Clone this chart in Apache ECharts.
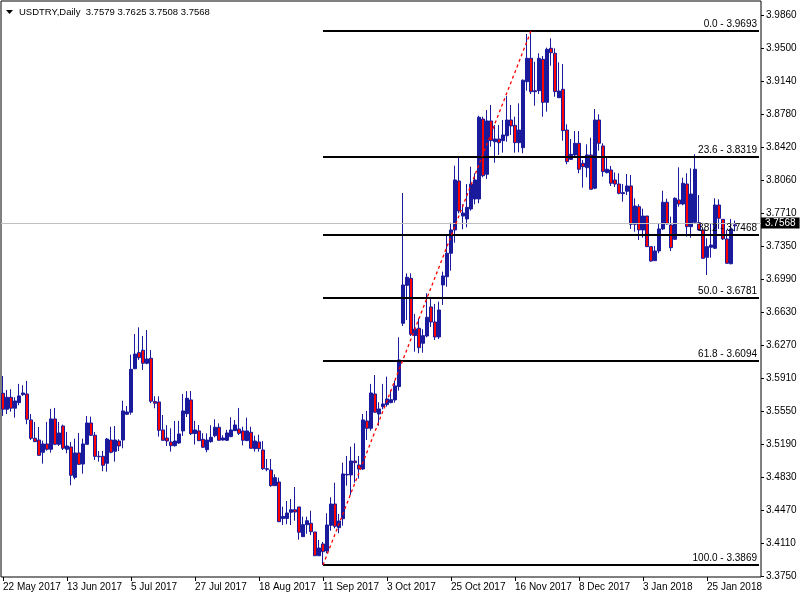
<!DOCTYPE html>
<html><head><meta charset="utf-8">
<script src="https://cdn.jsdelivr.net/npm/echarts@6/dist/echarts.min.js"></script>
<style>html,body{margin:0;padding:0;background:#fff}#c{width:800px;height:600px}</style>
</head><body><div id="c"></div>
<script>
// ---- Data (USDTRY Daily) ----
const openP = [
3.5742,3.5568,3.5698,3.5579,3.5640,3.5727,3.5734,3.5451,3.5251,3.5232,
3.5098,3.5189,3.5131,3.5462,3.5185,3.5385,3.5131,3.5156,3.4825,3.5091,
3.4970,3.5185,3.5418,3.5284,3.5054,3.5054,3.4978,3.5232,3.5109,3.5221,
3.5232,3.5513,3.5535,3.6009,3.6185,3.6211,3.6069,3.6123,3.5651,3.5647,
3.5342,3.5254,3.5211,3.5170,3.5200,3.5331,3.5519,3.5669,3.5303,3.5331,
3.5240,3.5127,3.5214,3.5279,3.5371,3.5232,3.5229,3.5269,3.5334,3.5352,
3.5331,3.5225,3.5316,3.5138,3.5211,3.5123,3.4919,3.4905,3.4734,3.4774,
3.4377,3.4377,3.4444,3.4472,3.4502,3.4178,3.4309,3.4324,3.4229,3.3970,
3.4098,3.4022,3.4302,3.4534,3.4276,3.4374,3.4858,3.4851,3.5003,3.4960,
3.4916,3.5440,3.5360,3.5734,3.5516,3.5596,3.5618,3.5640,3.5669,3.5815,
3.6505,3.6919,3.6996,3.6371,3.6451,3.6287,3.6367,3.6683,3.6519,3.6356,
3.6923,3.7013,3.7269,3.7523,3.8057,3.7675,3.7643,3.7752,3.7861,3.7861,
3.8733,3.8130,3.8712,3.8485,3.8515,3.8497,3.8551,3.8722,3.8664,3.8475,
3.8420,3.9140,3.9395,3.9042,3.9042,3.9384,3.8915,3.9504,3.9450,3.8965,
3.9057,3.8613,3.8293,3.8341,3.8468,3.8250,3.8202,3.8341,3.7978,3.8722,
3.8439,3.8148,3.8177,3.8068,3.8024,3.7919,3.7945,3.8003,3.7585,3.7777,
3.7523,3.7675,3.7341,3.7188,3.7294,3.7534,3.7825,3.7577,3.7421,3.7850,
3.7806,3.8024,3.7559,3.7607,3.7602,3.7523,3.7225,3.7334,3.7323,3.7795,
3.7639,3.7425,3.7155,3.7579];
const highP = [
3.5931,3.5778,3.5786,3.5698,3.5844,3.5829,3.5876,3.5516,3.5429,3.5374,
3.5225,3.5429,3.5571,3.5582,3.5429,3.5400,3.5320,3.5211,3.5247,3.5309,
3.5247,3.5494,3.5487,3.5320,3.5112,3.5112,3.5254,3.5377,3.5385,3.5240,
3.5661,3.5603,3.6163,3.6388,3.6461,3.6367,3.6432,3.6214,3.5709,3.5709,
3.5505,3.5393,3.5360,3.5440,3.5440,3.5734,3.5765,3.5767,3.5440,3.5396,
3.5305,3.5305,3.5393,3.5458,3.5414,3.5284,3.5342,3.5480,3.5451,3.5582,
3.5377,3.5476,3.5377,3.5279,3.5290,3.5221,3.5025,3.5025,3.4858,3.4821,
3.4505,3.4567,3.4589,3.4720,3.4502,3.4396,3.4396,3.4461,3.4229,3.4142,
3.4120,3.4433,3.4607,3.4767,3.4425,3.4985,3.5058,3.5159,3.5196,3.5058,
3.5516,3.5549,3.5844,3.5941,3.5643,3.5844,3.5923,3.5778,3.5880,3.6352,
3.7926,3.7050,3.7050,3.6607,3.6560,3.6440,3.6832,3.6792,3.6716,3.6741,
3.7068,3.7468,3.7602,3.8224,3.8322,3.7803,3.8024,3.8213,3.8141,3.8769,
3.8758,3.8831,3.8886,3.8668,3.8668,3.8722,3.8984,3.8886,3.8758,3.8904,
3.9164,3.9660,3.9693,3.9358,3.9450,3.9420,3.9511,3.9613,3.9504,3.9351,
3.9333,3.8675,3.8515,3.8602,3.8602,3.8286,3.8457,3.8529,3.8842,3.8784,
3.8468,3.8322,3.8221,3.8150,3.8141,3.8024,3.8133,3.8122,3.7868,3.7803,
3.7755,3.7675,3.7341,3.7348,3.7596,3.7951,3.7864,3.7668,3.7879,3.8206,
3.8093,3.8141,3.8195,3.8348,3.7904,3.7530,3.7432,3.7596,3.7868,3.7857,
3.7639,3.7523,3.7643,3.7625];
const lowP = [
3.5495,3.5516,3.5541,3.5476,3.5611,3.5713,3.5404,3.5232,3.5211,3.5060,
3.4974,3.5116,3.5094,3.5178,3.5167,3.5123,3.5087,3.4738,3.4804,3.4960,
3.4865,3.5185,3.5276,3.5014,3.4996,3.4891,3.4887,3.5087,3.4996,3.5112,
3.5142,3.5505,3.5509,3.6009,3.6105,3.5996,3.6058,3.5633,3.5578,3.5269,
3.5225,3.5167,3.5105,3.5160,3.5189,3.5276,3.5483,3.5287,3.5183,3.5221,
3.5145,3.5098,3.5203,3.5262,3.5229,3.5225,3.5221,3.5262,3.5331,3.5287,
3.5174,3.5221,3.5142,3.5105,3.5105,3.4905,3.4891,3.4723,3.4734,3.4341,
3.4305,3.4313,3.4305,3.4352,3.4145,3.4178,3.4210,3.4196,3.3970,3.3970,
3.3869,3.3997,3.4243,3.4269,3.4215,3.4298,3.4734,3.4633,3.4767,3.4811,
3.4905,3.5232,3.5334,3.5531,3.5388,3.5567,3.5596,3.5633,3.5640,3.5771,
3.6476,3.6541,3.6367,3.6195,3.6178,3.6184,3.6352,3.6465,3.6323,3.6334,
3.6705,3.6904,3.7079,3.7384,3.7705,3.7530,3.7552,3.7733,3.7803,3.7814,
3.8097,3.8079,3.8431,3.8257,3.8341,3.8366,3.8486,3.8559,3.8366,3.8370,
3.8359,3.9042,3.9006,3.8878,3.9006,3.8758,3.8813,3.9314,3.8976,3.8965,
3.8497,3.8239,3.8286,3.8315,3.8141,3.7985,3.8097,3.7967,3.7967,3.8388,
3.8104,3.8141,3.8003,3.7992,3.7912,3.7831,3.7904,3.7534,3.7504,3.7414,
3.7439,3.7341,3.7177,3.7188,3.7269,3.7523,3.7585,3.7294,3.7414,3.7777,
3.7792,3.7450,3.7439,3.7596,3.7515,3.7206,3.7032,3.7221,3.7315,3.7534,
3.7414,3.7159,3.7148,3.7508];
const closeP = [
3.5568,3.5698,3.5579,3.5658,3.5713,3.5745,3.5458,3.5251,3.5214,3.5065,
3.5189,3.5131,3.5462,3.5185,3.5309,3.5142,3.5167,3.4847,3.5091,3.4967,
3.5189,3.5418,3.5284,3.5054,3.5050,3.4956,3.5243,3.5098,3.5232,3.5167,
3.5549,3.5538,3.6003,3.6170,3.6130,3.6069,3.6116,3.5655,3.5633,3.5338,
3.5229,3.5221,3.5170,3.5221,3.5298,3.5549,3.5687,3.5301,3.5342,3.5225,
3.5153,3.5232,3.5262,3.5371,3.5229,3.5254,3.5309,3.5342,3.5396,3.5305,
3.5229,3.5331,3.5142,3.5221,3.5138,3.4919,3.4912,3.4734,3.4821,3.4341,
3.4399,3.4436,3.4472,3.4447,3.4226,3.4309,3.4352,3.4232,3.3970,3.4054,
3.4014,3.4305,3.4534,3.4291,3.4349,3.4862,3.4851,3.5003,3.4985,3.4916,
3.5451,3.5360,3.5745,3.5535,3.5571,3.5625,3.5680,3.5672,3.5822,3.6105,
3.6923,3.7007,3.6385,3.6443,3.6239,3.6370,3.6571,3.6519,3.6356,3.6650,
3.7021,3.7269,3.7523,3.8068,3.7730,3.7708,3.7770,3.8024,3.8068,3.8752,
3.8115,3.8712,3.8497,3.8515,3.8475,3.8559,3.8722,3.8657,3.8475,3.8613,
3.9156,3.9395,3.9031,3.9031,3.9395,3.8915,3.9493,3.9456,3.9031,3.9038,
3.8606,3.8268,3.8348,3.8468,3.8185,3.8213,3.8341,3.7967,3.8722,3.8468,
3.8159,3.8185,3.8032,3.8024,3.7923,3.7930,3.8003,3.7585,3.7784,3.7523,
3.7675,3.7341,3.7184,3.7294,3.7534,3.7825,3.7588,3.7330,3.7868,3.7806,
3.8032,3.7559,3.7915,3.8185,3.7523,3.7214,3.7341,3.7359,3.7795,3.7650,
3.7425,3.7159,3.7534,3.7568];

const dateLabels = ['22 May 2017','13 Jun 2017','5 Jul 2017','27 Jul 2017','18 Aug 2017','11 Sep 2017',
  '3 Oct 2017','25 Oct 2017','16 Nov 2017','8 Dec 2017','3 Jan 2018','25 Jan 2018'];
const priceTickLabels = ['3.3750','3.4110','3.4470','3.4830','3.5190','3.5550','3.5910','3.6270','3.6630',
  '3.6990','3.7350','3.7710','3.8060','3.8420','3.8780','3.9140','3.9500','3.9860'];
const fibNames  = ['0.0','23.6','38.2','50.0','61.8','100.0'];
const fibPrices = [3.9693, 3.8319, 3.7468, 3.6781, 3.6094, 3.3869];
const fibLowIndex = 80, fibHighIndex = 132;
const lastPrice = 3.7568;
const titleText = 'USDTRY,Daily  3.7579 3.7625 3.7508 3.7568';

// ---- Build ----
const SLOTS = 190;        // bars + right-side shift space
const LABEL_STEP = 16;
const Y_MIN = 3.3738, Y_MAX = 4.0020;
const FONT = 'Liberation Sans';
const categories = Array.from({length: SLOTS}, (_, i) => String(i));
const candles = openP.map((o, i) => [o, closeP[i], lowP[i], highP[i]]);
const tickValues = priceTickLabels.map(Number);
const isLabelIdx = (i) => i % LABEL_STEP === 0 && (i / LABEL_STEP) < dateLabels.length;

const fibLines = fibPrices.map((p, k) => [
  {coord: [fibLowIndex, p], label: {formatter: fibNames[k] + ' - ' + p.toFixed(4)}},
  {coord: [SLOTS - 1, p]}
]);

const chart = echarts.init(document.getElementById('c'), null, {renderer: 'canvas'});
chart.setOption({
  animation: false,
  backgroundColor: '#ffffff',
  grid: {left: 1, right: 39, top: 1, bottom: 23, show: true, borderColor: '#000', borderWidth: 1},
  xAxis: {
    type: 'category', data: categories, boundaryGap: true,
    axisLine: {show: false},
    axisTick: {show: true, alignWithLabel: true, interval: (i) => isLabelIdx(i), length: 4, lineStyle: {color: '#000'}},
    axisLabel: {interval: (i) => isLabelIdx(i), formatter: (v, i) => dateLabels[i / LABEL_STEP] || '',
      align: 'left', margin: 5, fontFamily: FONT, fontSize: 10, color: '#000'},
    splitLine: {show: false}
  },
  yAxis: {
    type: 'value', position: 'right', min: Y_MIN, max: Y_MAX,
    axisLine: {show: false}, splitLine: {show: false},
    axisTick: {show: true, customValues: tickValues, length: 3, lineStyle: {color: '#000'}},
    axisLabel: {customValues: tickValues, margin: 5, fontFamily: FONT, fontSize: 10, color: '#000',
      formatter: (v) => {
        let best = 0;
        tickValues.forEach((t, k) => { if (Math.abs(t - v) < Math.abs(tickValues[best] - v)) best = k; });
        return priceTickLabels[best];
      }}
  },
  series: [
    {
      type: 'candlestick', data: candles, barWidth: 3, z: 3,
      itemStyle: {color: '#1a1a9c', color0: '#ff0000', borderColor: '#1a1a9c', borderColor0: '#1a1a9c', borderWidth: 1},
      markLine: {
        symbol: 'none', silent: true, animation: false,
        data: [{yAxis: lastPrice, lineStyle: {color: '#c0c0c0', width: 1, type: 'solid'},
          label: {show: true, position: 'end', formatter: lastPrice.toFixed(4), backgroundColor: '#000',
            color: '#fff', fontFamily: FONT, fontSize: 10, padding: [1, 4, 0, 4], distance: 0}}]
      }
    },
    {
      type: 'line', data: [], z: 4,
      markLine: {
        symbol: 'none', silent: true, animation: false,
        lineStyle: {color: '#000', width: 2, type: 'solid'},
        label: {show: true, position: 'insideEndTop', fontFamily: FONT, fontSize: 10, color: '#000', distance: 2},
        data: fibLines.concat([[
          {coord: [fibLowIndex, fibPrices[5]], lineStyle: {color: '#ff0000', width: 1.3, type: [3, 3]}, label: {show: false}},
          {coord: [fibHighIndex, fibPrices[0]]}
        ]])
      }
    }
  ],
  graphic: [
    {type: 'polygon', shape: {points: [[6, 10], [13, 10], [9.5, 14]]}, style: {fill: '#000'}},
    {type: 'text', left: 19, top: 7, style: {text: titleText, font: '9.5px "' + FONT + '"', fill: '#000'}}
  ]
});
</script></body></html>
